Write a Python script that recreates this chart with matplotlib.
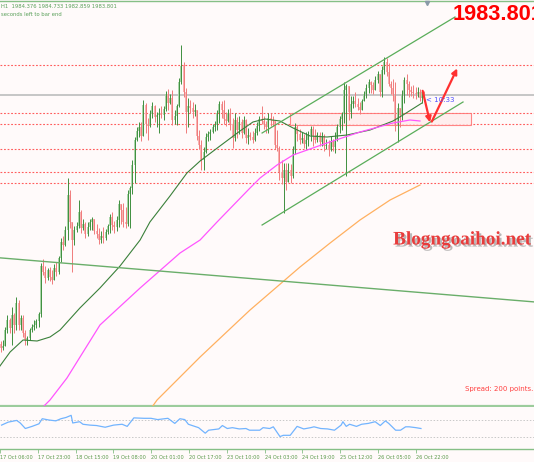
import numpy as np
import matplotlib.pyplot as plt
import matplotlib.patheffects as pe
from matplotlib.patches import Rectangle

# XAUUSD H1 bars, 17 Oct 06:00 -> 27 Oct
open0 = 1920.5
high = [1922.5, 1922.25, 1922.5, 1925.75, 1928.75, 1928, 1930.75, 1929.25, 1933.25, 1932.5,
        1928.75, 1928.75, 1925, 1923.5, 1925.5, 1926.5, 1927.5, 1927.75, 1929.5, 1941.75,
        1942.75, 1941, 1940.5, 1940.75, 1940, 1941.5, 1942, 1943.5, 1948, 1948.5,
        1951, 1963, 1960, 1952, 1951, 1952, 1957.5, 1955, 1952.75, 1952,
        1952, 1952.75, 1953.25, 1952.75, 1951.5, 1950.5, 1949.75, 1950.75, 1950.25, 1951.5,
        1954, 1954.5, 1952.25, 1953.5, 1957.5, 1956.25, 1956.75, 1955.75, 1960, 1961,
        1967.5, 1973.25, 1975.75, 1977, 1977, 1982.5, 1981.75, 1978, 1980, 1982,
        1981.25, 1979.5, 1980.5, 1981, 1981, 1984.75, 1985.25, 1984, 1985, 1980,
        1981.5, 1988, 1996.25, 1992, 1985.5, 1983, 1982.5, 1982, 1981.5, 1980,
        1975, 1972.5, 1970.75, 1974.25, 1974.75, 1975.25, 1976.5, 1977.25, 1980, 1982.25,
        1982.25, 1982.5, 1979.5, 1980.25, 1980.5, 1978, 1979.25, 1978.25, 1978.5, 1977.75,
        1978.5, 1977.75, 1975.5, 1974.5, 1974.75, 1975.5, 1977, 1978.5, 1981, 1978.5,
        1977.25, 1979.25, 1979.25, 1978.5, 1977.25, 1975, 1971, 1967.5, 1966.75, 1966.75,
        1966.75, 1966.5, 1971, 1976.75, 1976.25, 1975.25, 1974.5, 1974, 1974.5, 1974.75,
        1976, 1976, 1975.25, 1974.5, 1974.5, 1974.5, 1974, 1972.75, 1972.5, 1973.5,
        1972.75, 1974.5, 1976.5, 1978.5, 1979.5, 1987, 1986.5, 1986, 1983.5, 1983.5,
        1984.5, 1983, 1982, 1982.75, 1984.75, 1986.5, 1987.75, 1987.25, 1987, 1988.5,
        1989.75, 1988.75, 1991, 1993.25, 1993, 1991.75, 1987.25, 1987.75, 1987, 1981.75,
        1980.5, 1985, 1988.25, 1989, 1987.25, 1986, 1986.25, 1985.75, 1985.75, 1985.25,
        1984.5, 1984.73]
low = [1919.25, 1919.5, 1920, 1921, 1924.25, 1924.25, 1921.25, 1924.25, 1925, 1925,
       1925, 1923.25, 1921.25, 1921.25, 1922.5, 1924.5, 1925, 1925.5, 1925.75, 1928.25,
       1938.75, 1936.75, 1937.5, 1937.25, 1936.5, 1937.5, 1938.5, 1939, 1942, 1945,
       1946, 1947.5, 1950.5, 1939.5, 1946.25, 1949.5, 1950.5, 1949.25, 1950, 1948,
       1948.5, 1950, 1950, 1949, 1948, 1946.5, 1946.75, 1946.75, 1947.5, 1949,
       1949.25, 1950, 1949.25, 1949.75, 1950.75, 1951.5, 1950.75, 1950.5, 1951, 1950.5,
       1959, 1961.75, 1972.25, 1973.25, 1972.25, 1975.5, 1974.25, 1972.5, 1975.75, 1978,
       1977, 1975.75, 1974.25, 1978, 1977.5, 1979.75, 1980, 1981.5, 1976.25, 1976.5,
       1976.25, 1980.75, 1986.5, 1983.25, 1974.25, 1975.75, 1979.25, 1978, 1978.5, 1972.5,
       1970.25, 1965, 1965, 1969.25, 1972.25, 1972.5, 1974.25, 1974.75, 1975, 1976.75,
       1978, 1976.5, 1976, 1977, 1975, 1970.5, 1972.25, 1973, 1974, 1973,
       1974, 1971.75, 1971.5, 1972.5, 1971.75, 1972.25, 1973.75, 1974.75, 1976.5, 1975.25,
       1974.25, 1974.25, 1976, 1976, 1970.25, 1969.75, 1962.5, 1961.5, 1954.25, 1960,
       1962, 1961.75, 1963, 1969, 1972.25, 1971.5, 1971.75, 1970.5, 1970.25, 1971,
       1972.25, 1971, 1971.75, 1972, 1971, 1971, 1969.75, 1970.25, 1968.5, 1969.75,
       1969.75, 1969.25, 1972.25, 1974.25, 1975, 1976.75, 1963.5, 1977.5, 1978, 1980.5,
       1980.75, 1980, 1979, 1980.5, 1982.25, 1983, 1984.25, 1984.25, 1984, 1985,
       1986.75, 1983.5, 1983.25, 1989, 1988.5, 1986, 1984, 1982.25, 1974.75, 1972,
       1975.75, 1977.5, 1981.75, 1983.75, 1983.25, 1983.5, 1983, 1982.75, 1983.25, 1982.25,
       1981.75, 1982.86]
close = [1921.5, 1920.5, 1921, 1925, 1927.5, 1925.5, 1928.75, 1926.25, 1931.75, 1926.25,
         1928, 1924.25, 1922.5, 1923, 1925, 1925.75, 1926.25, 1927.25, 1929, 1941,
         1939.5, 1938, 1940, 1938.25, 1937.5, 1940.5, 1939.5, 1943, 1947, 1946.25,
         1950, 1958.75, 1952, 1947.5, 1950, 1951, 1954.5, 1950.5, 1951.5, 1949,
         1950.75, 1952, 1952.75, 1949.75, 1949, 1947.5, 1948.5, 1948, 1949.5, 1951,
         1953.25, 1951.25, 1950.75, 1952.5, 1956.5, 1955, 1952, 1951.5, 1959, 1960.5,
         1966.25, 1972.5, 1974.75, 1975.75, 1973.5, 1981.25, 1976.5, 1976, 1979, 1981,
         1978.25, 1978.75, 1979.25, 1978.75, 1980.25, 1984, 1981.75, 1983, 1977.5, 1978.5,
         1981, 1987, 1991, 1984.5, 1979.5, 1981, 1980.5, 1979.5, 1980, 1973.5,
         1971.25, 1967.5, 1969.5, 1973.25, 1974, 1974.5, 1975.75, 1976.25, 1979.25, 1981.5,
         1980, 1977.75, 1977.25, 1979.25, 1976.5, 1973, 1977.5, 1975, 1977, 1974.25,
         1977.5, 1973, 1973.75, 1973.25, 1972.5, 1974.25, 1976, 1977.75, 1977.25, 1976.5,
         1975.75, 1978, 1977.5, 1977.25, 1971.25, 1970.5, 1964.5, 1963, 1965, 1962,
         1965, 1963.5, 1970, 1975.75, 1974, 1972.5, 1973, 1971.5, 1972.5, 1973.75,
         1975.25, 1973.5, 1972.5, 1973.75, 1972, 1973.5, 1971, 1971.25, 1970, 1972.25,
         1970.75, 1972.5, 1975.75, 1977.75, 1979, 1985, 1986, 1979.5, 1981.5, 1982.25,
         1981.5, 1980.75, 1980, 1982.25, 1984, 1985.5, 1987, 1986.25, 1985, 1987.5,
         1989, 1984.5, 1990, 1992, 1989.5, 1986.5, 1985.5, 1983.5, 1976.25, 1980.5,
         1978.75, 1983.75, 1987.5, 1986.5, 1985, 1984.5, 1984.25, 1984, 1984.5, 1983,
         1984.38, 1983.8]

# moving averages (sampled)
ma_green_bar = [0, 5.2, 11.0, 17.3, 23.1, 27.6, 36.5, 45.5, 54.5, 63.5, 67.9, 76.9, 84.5, 90.4,
                99.3, 108.3, 114.1, 119.5, 126.2, 132.1, 139.7, 147.3, 156.3, 166.6, 176.9, 181.4, 189.9]
ma_green = [1915.5, 1919.5, 1922.5, 1922.25, 1923.25, 1925, 1930.5, 1935.5, 1941, 1947.5, 1952,
            1958.5, 1964.25, 1967.25, 1971, 1974.75, 1977, 1977.75, 1977.25, 1975.5, 1973.5,
            1973.25, 1973.75, 1975, 1977.25, 1978.75, 1981.75]
ma_pink_bar = [18.6, 23.1, 30.7, 45.5, 63.5, 81.4, 90.4, 98, 112.8, 117.3, 124.9, 132.1,
               147.3, 162.1, 176.9, 184.5, 189]
ma_pink = [1905, 1907.5, 1913, 1926.25, 1935.5, 1944.25, 1947.5, 1952, 1960.5, 1963, 1966.25,
           1968.75, 1971.75, 1974.5, 1976.75, 1977.5, 1977.25]
ma_orange_bar = [67.9, 71.1, 90.4, 112.8, 135.2, 148.7, 162.1, 175.6, 189]
ma_orange = [1905, 1907.5, 1918.25, 1930, 1940.75, 1946.75, 1952.5, 1957.5, 1961.25]

# oscillator in the lower window
osc_bar = [0.7, 3.7, 7.5, 9.1, 11.4, 14.4, 17.5, 19, 22, 25.1, 27.4, 29.7, 32, 32.7, 35.8, 37.3,
           40.4, 43.4, 47.3, 51.1, 54.9, 57.2, 60.2, 64.8, 67.9, 70.9, 75.5, 78.6, 80.9, 83.1,
           84.7, 89.3, 92.3, 93.8, 98.4, 100, 102.2, 104.5, 107.6, 110.6, 112.2, 116.8, 118.3,
           121.3, 122.9, 125.9, 127.4, 130.5, 133.6, 136.6, 139.7, 141.2, 144.2, 147.3, 150.4,
           153.4, 154.2, 155.7, 157.2, 160.3, 162.6, 165.6, 168.7, 171, 173.3, 174.8, 177.9,
           180.1, 182.4, 184, 187, 189.3]
osc = [58, 65, 69, 63, 50, 55, 61, 73, 70, 68, 73, 76, 81, 63, 66, 60, 58, 57, 53, 58,
       60, 55, 75, 74, 74, 71, 74, 62, 73, 71, 60, 52, 39, 46, 49, 57, 50, 52, 49, 50,
       46, 46, 52, 50, 54, 31, 34, 34, 55, 49, 52, 54, 50, 49, 46, 58, 66, 55, 60, 55,
       60, 62, 66, 57, 68, 62, 46, 46, 54, 54, 52, 50]
osc_levels = [70, 30]

# drawn objects
levels = [1991.25, 1979.25, 1976.5, 1970.25, 1964.5, 1961.75]
bid = 1983.8
zone_bars = [130.7, 211.9]
zone_prices = [1976.25, 1979.25]
chan_upper = ([118.2, 204.7], [1974.25, 2003.25])
chan_lower = ([118.2, 208.3], [1951.25, 1982.0])
long_trend = ([-5.0, 245.0], [1943.3, 1931.8])
arrow_down = ([190.2, 193.5], [1984.8, 1976.9])
arrow_up = ([194.3, 205.7], [1977.1, 1990.4])

label_bars = [0, 17, 34, 51, 68, 85, 102, 119, 136, 153, 170, 187]
time_labels = ['17 Oct 06:00', '17 Oct 23:00', '18 Oct 15:00', '19 Oct 08:00', '20 Oct 01:00',
               '20 Oct 17:00', '23 Oct 10:00', '24 Oct 03:00', '24 Oct 19:00', '25 Oct 12:00',
               '26 Oct 05:00', '26 Oct 22:00']

bg = '#fffafa'
W, H = 534, 462
fig = plt.figure(figsize=(W / 100, H / 100), dpi=100, facecolor=bg)
ax = fig.add_axes([0, 1 - 406 / H, 1, 405 / H])
ax2 = fig.add_axes([0, 1 - 449 / H, 1, 42 / H])
xl = (0.6726, 240.13)
for a in (ax, ax2):
    a.set_facecolor(bg)
    a.set_xlim(*xl)
    for s in a.spines.values():
        s.set_visible(False)
ax.set_ylim(1906, 2007.25)
ax.set_xticks([])
ax.set_yticks([])
ax.spines['top'].set_visible(True)
ax.spines['top'].set_color('#86bf86')
ax.spines['top'].set_linewidth(1.0)
ax.spines['bottom'].set_visible(True)
ax.spines['bottom'].set_color('#9ccc9c')
ax.spines['bottom'].set_linewidth(1.6)

# levels, bid line, zone
for lv in levels:
    ax.axhline(lv, color='#ff5c5c', lw=0.8, ls=(0, (1.6, 1.6)), zorder=1)
ax.axhline(bid, color='#c6c6c6', lw=1.4, zorder=1.2)
ax.add_patch(Rectangle((zone_bars[0], zone_prices[0]), zone_bars[1] - zone_bars[0],
                       zone_prices[1] - zone_prices[0], fc='#ffecec', ec='#ff6a6a', lw=0.8,
                       alpha=0.8, zorder=1.1))

# candles
c = np.array(close)
o = np.r_[open0, c[:-1]]
hi = np.maximum(np.array(high), np.maximum(o, c))
lo = np.minimum(np.array(low), np.minimum(o, c))
idx = np.arange(len(c))
up = c >= o
wick = np.where(up, '#3f8f3f', '#f07c7c')
body = np.where(up, '#acd6aa', '#f8b2b2')
ax.bar(idx, np.maximum(np.abs(c - o), 0.25), bottom=np.minimum(o, c), width=0.9,
       color=body, linewidth=0, zorder=3)
ax.vlines(idx, lo, hi, colors=wick, lw=0.7, zorder=4)

# moving averages and trend lines
ax.plot(ma_green_bar, ma_green, color='#3a803a', lw=0.8, zorder=5)
ax.plot(ma_pink_bar, ma_pink, color='#ff55ff', lw=0.9, zorder=5)
ax.plot(ma_orange_bar, ma_orange, color='#ffb060', lw=0.9, zorder=5)
for xs, ys in (chan_upper, chan_lower):
    ax.plot(xs, ys, color='#5aad5a', lw=0.9, zorder=5)
ax.plot(*long_trend, color='#6aae6a', lw=1.0, zorder=5)

for xs, ys in (arrow_down, arrow_up):
    ax.annotate('', xy=(xs[1], ys[1]), xytext=(xs[0], ys[0]),
                arrowprops=dict(arrowstyle='-|>', color='#ff3030', lw=1.6,
                                mutation_scale=8, shrinkA=0, shrinkB=0), zorder=6)
ax.text(191.8, 1982.4, '< 10:33', fontsize=5, color='#5050ff', va='center', zorder=6)
ax.plot([192], [2006.8], marker='v', color='#8a9aa8', ms=3, clip_on=False, zorder=6)

# oscillator window
ax2.set_ylim(1.8, 100.6)
ax2.set_yticks([])
for lv in osc_levels:
    ax2.axhline(lv, color='#c8c8c8', lw=0.7, ls=(0, (1.5, 1.8)))
ax2.plot(osc_bar, osc, color='#72b4ff', lw=0.9)
ax2.spines['bottom'].set_visible(True)
ax2.spines['bottom'].set_color('#86bf86')
ax2.spines['bottom'].set_linewidth(1.0)
ax2.set_xticks(label_bars)
ax2.set_xticklabels(time_labels)
ax2.tick_params(axis='x', length=3, width=0.6, color='#86bf86', labelsize=3.6,
                labelcolor='#5a9a4a', pad=1.5)
for t in ax2.get_xticklabels():
    t.set_ha('left')

# texts
fig.text(1 / W, 1 - 6 / H, 'H1  1984.376 1984.733 1982.859 1983.801', fontsize=3.8,
         color='#5aa05a', va='center')
fig.text(1 / W, 1 - 14 / H, 'seconds left to bar end', fontsize=3.8, color='#5aa05a',
         va='center')
fig.text(453 / W, 1 - 15 / H, '1983.801', fontsize=15.7, fontweight='bold',
         family='Liberation Sans', color='#ff0000', va='center')
fig.text(462 / W, 1 - 240 / H, 'Blogngoaihoi.net', family='Liberation Serif',
         fontweight='bold', fontsize=13.8, color='#e83c3c', ha='center', va='center',
         path_effects=[pe.withSimplePatchShadow(offset=(1.5, -1.5),
                                                shadow_rgbFace='#777777', alpha=0.5)])
fig.text(533 / W, 1 - 389 / H, 'Spread: 200 points.', fontsize=5, color='#ff4040',
         ha='right', va='center')

fig.savefig('out.png', dpi=100, facecolor=bg)
